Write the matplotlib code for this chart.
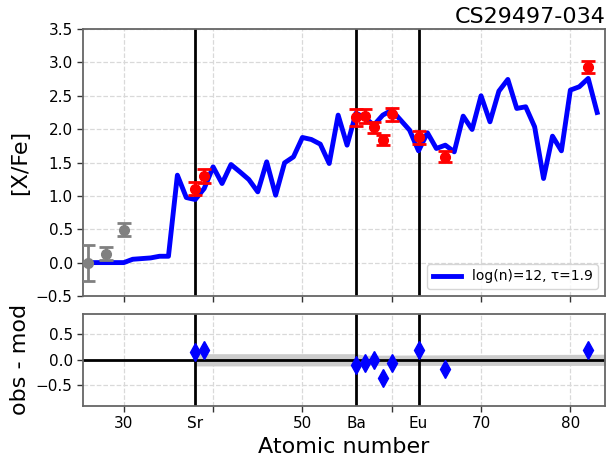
import numpy as np
import matplotlib
matplotlib.use("Agg")
import matplotlib.pyplot as plt

star_name = "CS29497-034"

# model abundance pattern, one value per atomic number (Z = 26..83)
model_z = list(range(26, 84))
model_xfe = [0.00, 0.00, 0.00, 0.00, 0.00, 0.05, 0.06, 0.07, 0.095, 0.095,
             1.31, 0.975, 0.945, 1.11, 1.435, 1.185, 1.47, 1.36, 1.245, 1.06,
             1.51, 1.01, 1.495, 1.585, 1.875, 1.845, 1.775, 1.485, 2.21, 1.76,
             2.24, 2.17, 2.06, 2.21, 2.285, 2.135, 1.985, 1.675, 1.945, 1.71,
             1.76, 1.66, 2.195, 1.995, 2.50, 2.11, 2.57, 2.745, 2.31, 2.335,
             2.035, 1.26, 1.895, 1.675, 2.585, 2.635, 2.76, 2.25]
model_label = "log(n)=12, τ=1.9"

# observed abundances used in the fit
obs_z = [38, 39, 56, 57, 58, 59, 60, 63, 66, 82]
obs_xfe = [1.11, 1.30, 2.175, 2.195, 2.025, 1.835, 2.22, 1.875, 1.585, 2.935]
obs_err = [0.10, 0.10, 0.13, 0.10, 0.08, 0.08, 0.10, 0.10, 0.08, 0.09]

# observed abundances not fitted (grey)
other_z = [26, 28, 30]
other_xfe = [0.00, 0.135, 0.495]
other_err = [0.27, 0.10, 0.10]

# residuals obs - model
resid = [0.16, 0.20, -0.10, -0.065, 0.00, -0.36, -0.065, 0.20, -0.185, 0.185]

# model uncertainty band in the residual panel
band_z = [38, 56, 57, 84]
band_hi = [0.12, 0.12, 0.09, 0.11]
band_lo = [-0.12, -0.12, -0.11, -0.11]

# marked elements
mark_z = [38, 56, 63]
mark_lab = ["Sr", "Ba", "Eu"]
major_pos = [30, 40, 50, 60, 70, 80]
major_lab = ["30", "", "50", "", "70", "80"]

fig = plt.figure(figsize=(6.07, 4.61), dpi=100)
ax = fig.add_axes([0.137, 0.358, 0.860, 0.579])
axr = fig.add_axes([0.137, 0.120, 0.860, 0.199], sharex=ax)

for a in (ax, axr):
    a.grid(True, ls="--", color="0.85", lw=0.9)
    a.set_axisbelow(True)
    for s in a.spines.values():
        s.set_color("0.4")
        s.set_linewidth(1.3)
    a.tick_params(labelsize=11, color="0.2", length=4, width=1)
    a.tick_params(which="minor", length=0)
    for z in mark_z:
        a.axvline(z, color="k", lw=2, zorder=2)

# top panel
ax.plot(model_z, model_xfe, color="blue", lw=3.5, label=model_label, zorder=3)
ax.errorbar(obs_z, obs_xfe, yerr=obs_err, fmt="o", color="red", ms=7,
            elinewidth=2, capsize=5, capthick=2, zorder=4)
ax.errorbar(other_z, other_xfe, yerr=other_err, fmt="o", color="grey", ms=7,
            elinewidth=2, capsize=5, capthick=2, zorder=4)
ax.set_ylim(-0.5, 3.5)
ax.set_yticks(np.arange(-0.5, 3.51, 0.5))
ax.set_ylabel("[X/Fe]", fontsize=16)
ax.set_title(star_name, loc="right", fontsize=16, pad=4)
ax.legend(loc="lower right", fontsize=10)
ax.tick_params(axis="x", which="both", labelbottom=False)

# residual panel
axr.fill_between(band_z, band_lo, band_hi, color="0.8", lw=0, zorder=1)
axr.axhline(0, color="k", lw=2, zorder=2)
axr.plot(obs_z, resid, "d", color="blue", ms=9, zorder=4)
axr.set_ylim(-0.9, 0.9)
axr.set_yticks([-0.5, 0.0, 0.5])
axr.set_ylabel("obs - mod", fontsize=16)
axr.set_xlabel("Atomic number", fontsize=16)
axr.set_xticks(major_pos)
axr.set_xticklabels(major_lab)
axr.set_xticks(mark_z, minor=True)
axr.set_xticklabels(mark_lab, minor=True)
axr.tick_params(which="minor", labelsize=11, pad=3.5 + 4)
axr.set_xlim(25.45, 83.9)

fig.align_ylabels([ax, axr])
fig.savefig("out.png", dpi=100)
